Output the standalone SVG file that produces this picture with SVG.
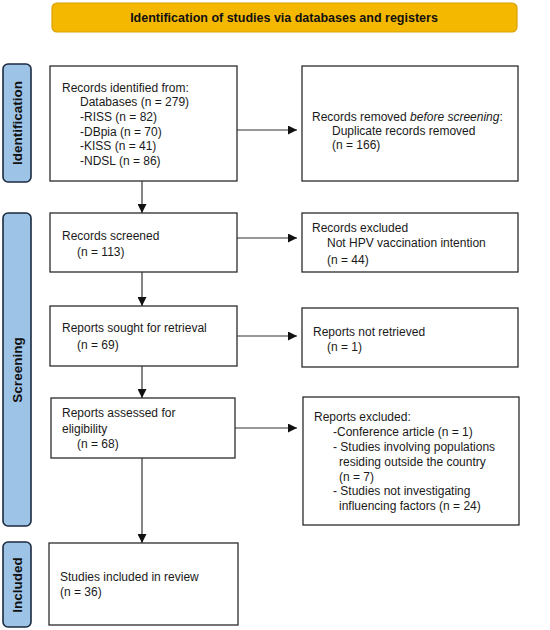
<svg xmlns="http://www.w3.org/2000/svg" width="550" height="630" viewBox="0 0 550 630">
<defs>
<marker id="ah" viewBox="0 0 10 10" refX="10" refY="5" markerWidth="9" markerHeight="9" markerUnits="userSpaceOnUse" orient="auto">
<path d="M0,0 L10,5 L0,10 z" fill="#111"/>
</marker>
<style>
.box{fill:#fff;stroke:#2b2b2b;stroke-width:1.3}
.side{fill:#9DC3E6;stroke:#1c2a40;stroke-width:1.6}
.t{font-family:"Liberation Sans",Arial,sans-serif;font-size:12px;fill:#1a1a1a}
.s{font-family:"Liberation Sans",Arial,sans-serif;font-size:12.5px;font-weight:bold;fill:#111}
.sl{font-family:"Liberation Sans",Arial,sans-serif;font-size:13.5px;font-weight:bold;fill:#111}
.c{fill:none;stroke:#333;stroke-width:1.2}
</style>
</defs>
<rect width="550" height="630" fill="#fff"/>
<g id="banner">
<rect x="52" y="3" width="465" height="29" rx="5" fill="#F5B800" stroke="#D9A000" stroke-width="1.2"/>
<text class="s" x="284" y="22" text-anchor="middle">Identification of studies via databases and registers</text>
</g>
<g id="side-identification">
<rect class="side" x="3" y="64" width="28" height="118" rx="5"/>
<text class="sl" transform="translate(22,123) rotate(-90)" text-anchor="middle">Identification</text>
</g>
<g id="side-screening">
<rect class="side" x="3" y="213" width="28" height="313" rx="5"/>
<text class="sl" transform="translate(22,370) rotate(-90)" text-anchor="middle">Screening</text>
</g>
<g id="side-included">
<rect class="side" x="3" y="542" width="28" height="85" rx="5"/>
<text class="sl" transform="translate(22,585) rotate(-90)" text-anchor="middle">Included</text>
</g>
<g id="records-identified">
<rect class="box" x="50" y="66" width="187" height="115"/>
<text class="t" x="62" y="92">Records identified from:</text>
<text class="t" x="80" y="106">Databases (n = 279)</text>
<text class="t" x="80" y="121">-RISS (n = 82)</text>
<text class="t" x="80" y="136">-DBpia (n = 70)</text>
<text class="t" x="80" y="150">-KISS (n = 41)</text>
<text class="t" x="80" y="165">-NDSL (n = 86)</text>
</g>
<g id="records-removed">
<rect class="box" x="302" y="66" width="216" height="115"/>
<text class="t" x="312" y="121">Records removed <tspan font-style="italic">before screening</tspan>:</text>
<text class="t" x="332" y="135">Duplicate records removed</text>
<text class="t" x="332" y="149">(n = 166)</text>
</g>
<g id="records-screened">
<rect class="box" x="50" y="213" width="187" height="59"/>
<text class="t" x="62" y="240">Records screened</text>
<text class="t" x="77" y="256">(n = 113)</text>
</g>
<g id="records-excluded">
<rect class="box" x="302" y="213" width="216" height="59"/>
<text class="t" x="312" y="232">Records excluded</text>
<text class="t" x="327" y="247">Not HPV vaccination intention</text>
<text class="t" x="327" y="264">(n = 44)</text>
</g>
<g id="reports-sought">
<rect class="box" x="50" y="306" width="187" height="60"/>
<text class="t" x="62" y="332">Reports sought for retrieval</text>
<text class="t" x="77" y="349">(n = 69)</text>
</g>
<g id="reports-not-retrieved">
<rect class="box" x="302" y="308" width="216" height="59"/>
<text class="t" x="313" y="336">Reports not retrieved</text>
<text class="t" x="327" y="351">(n = 1)</text>
</g>
<g id="reports-assessed">
<rect class="box" x="51" y="398" width="184" height="60"/>
<text class="t" x="62" y="417">Reports assessed for</text>
<text class="t" x="62" y="433">eligibility</text>
<text class="t" x="77" y="448">(n = 68)</text>
</g>
<g id="reports-excluded">
<rect class="box" x="303" y="397" width="216" height="128"/>
<text class="t" x="314" y="421">Reports excluded:</text>
<text class="t" x="333" y="436">-Conference article (n = 1)</text>
<text class="t" x="333" y="451">- Studies involving populations</text>
<text class="t" x="339" y="466">residing outside the country</text>
<text class="t" x="339" y="481">(n = 7)</text>
<text class="t" x="333" y="495">- Studies not investigating</text>
<text class="t" x="339" y="510">influencing factors (n = 24)</text>
</g>
<g id="studies-included">
<rect class="box" x="49" y="543" width="189" height="82"/>
<text class="t" x="60" y="581">Studies included in review</text>
<text class="t" x="60" y="596">(n = 36)</text>
</g>
<g id="connectors">
<line class="c" x1="237" y1="130" x2="297" y2="130" marker-end="url(#ah)"/>
<line class="c" x1="142" y1="181" x2="142" y2="213" marker-end="url(#ah)"/>
<line class="c" x1="237" y1="238" x2="297" y2="238" marker-end="url(#ah)"/>
<line class="c" x1="142" y1="272" x2="142" y2="306" marker-end="url(#ah)"/>
<line class="c" x1="237" y1="336" x2="297" y2="336" marker-end="url(#ah)"/>
<line class="c" x1="142" y1="366" x2="142" y2="398" marker-end="url(#ah)"/>
<line class="c" x1="235" y1="428" x2="297" y2="428" marker-end="url(#ah)"/>
<line class="c" x1="142" y1="458" x2="142" y2="543" marker-end="url(#ah)"/>
</g>
</svg>
